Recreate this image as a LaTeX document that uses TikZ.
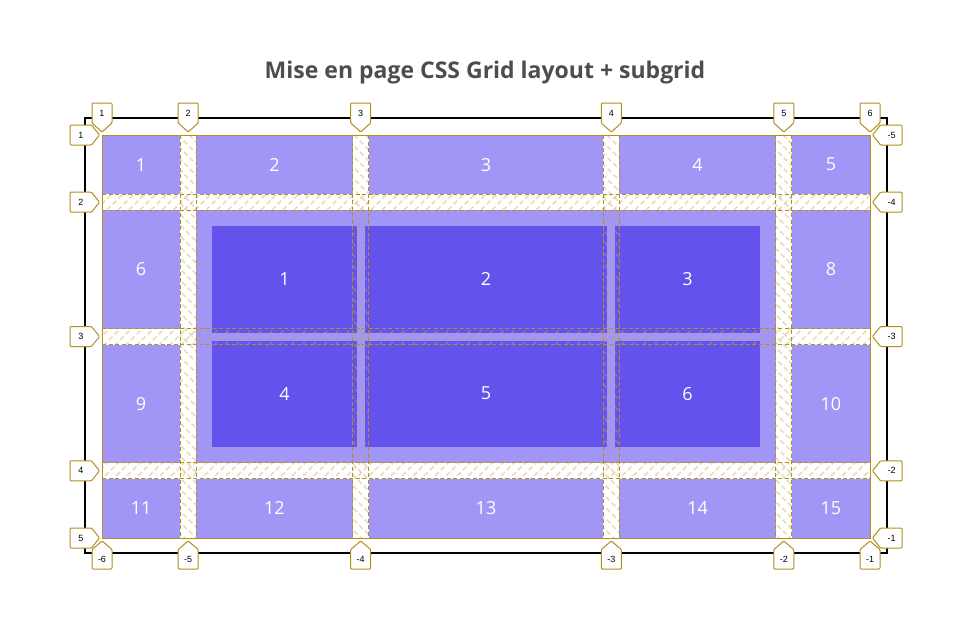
\documentclass[tikz,border=0pt]{standalone}
\usepackage{fontspec}
\setmainfont{Open Sans}
\newfontfamily\badgefont{Liberation Sans}
\definecolor{lightp}{RGB}{161,150,245}
\definecolor{darkp}{RGB}{99,82,235}
\definecolor{gridgold}{RGB}{176,144,30}
\definecolor{hatchgold}{RGB}{200,170,80}
\definecolor{titlegray}{RGB}{77,77,77}
\tikzset{
  cellbox/.style={fill=lightp, inner sep=0pt, outer sep=0pt, text=white, font=\fontsize{18}{18}\selectfont},
  subbox/.style={fill=darkp, inner sep=0pt, outer sep=0pt, text=white, font=\fontsize{18}{18}\selectfont},
  hatchline/.style={draw=hatchgold, draw opacity=0.4, line width=1.6pt, dash pattern=on 5pt off 3pt},
  gridline/.style={draw=gridgold, line width=1pt, dash pattern=on 4pt off 2.5pt},
  badge/.style={draw=gridgold, fill=white, line width=1pt, rounded corners=1pt},
  badgetext/.style={inner sep=0pt, font=\badgefont\fontsize{9}{9}\selectfont, text=black},
}
\newcommand{\gcell}[7]{% style, name, x1, y1, x2, y2, text
  \node[#1, minimum width={#5-#3}, minimum height={#6-#4}] (#2) at ({(#3+#5)/2},{(#4+#6)/2}) {#7};}
\newcommand{\badgeTop}[3]{%
  \draw[badge] (#2-10,103) -- (#2+10,103) -- (#2+10,123) -- (#2,132) -- (#2-10,123) -- cycle;
  \node[badgetext] (#1) at (#2,113.5) {#3};}
\newcommand{\badgeBot}[3]{%
  \draw[badge] (#2,541) -- (#2+10,549.5) -- (#2+10,569) -- (#2-10,569) -- (#2-10,549.5) -- cycle;
  \node[badgetext] (#1) at (#2,559) {#3};}
\newcommand{\badgeLeft}[3]{%
  \draw[badge] (70,#2-10) -- (91.5,#2-10) -- (99.5,#2) -- (91.5,#2+10) -- (70,#2+10) -- cycle;
  \node[badgetext] (#1) at (81,#2) {#3};}
\newcommand{\badgeRight}[3]{%
  \draw[badge] (872.5,#2) -- (880.5,#2-10) -- (902,#2-10) -- (902,#2+10) -- (880.5,#2+10) -- cycle;
  \node[badgetext] (#1) at (891.5,#2) {#3};}
\begin{document}
\begin{tikzpicture}[x=1pt,y=-1pt]
\useasboundingbox[fill=white] (0,0) rectangle (960,640);
% title
\node[font=\bfseries\fontsize{23}{23}\selectfont, text=titlegray] (title) at (485,72.5) {Mise en page CSS Grid layout + subgrid};
% container
\draw[black, line width=2pt] (85,118) rectangle (887,553);
% row 1
\gcell{cellbox}{i1}{102}{135}{180.2}{194.2}{1}
\gcell{cellbox}{i2}{196.2}{135}{352.7}{194.2}{2}
\gcell{cellbox}{i3}{368.7}{135}{603.3}{194.2}{3}
\gcell{cellbox}{i4}{619.3}{135}{775.8}{194.2}{4}
\gcell{cellbox}{i5}{791.8}{135}{870}{194.2}{5}
% rows 2-3
\gcell{cellbox}{i6}{102}{210.2}{180.2}{328.5}{6}
\gcell{cellbox}{i7}{196.2}{210.2}{775.8}{462.8}{}
\gcell{cellbox}{i8}{791.8}{210.2}{870}{328.5}{8}
\gcell{cellbox}{i9}{102}{344.5}{180.2}{462.8}{9}
\gcell{cellbox}{i10}{791.8}{344.5}{870}{462.8}{10}
% row 4
\gcell{cellbox}{i11}{102}{478.8}{180.2}{538}{11}
\gcell{cellbox}{i12}{196.2}{478.8}{352.7}{538}{12}
\gcell{cellbox}{i13}{368.7}{478.8}{603.3}{538}{13}
\gcell{cellbox}{i14}{619.3}{478.8}{775.8}{538}{14}
\gcell{cellbox}{i15}{791.8}{478.8}{870}{538}{15}
% subgrid items
\gcell{subbox}{s1}{212.2}{226.2}{356.7}{332.5}{1}
\gcell{subbox}{s2}{364.7}{226.2}{607.3}{332.5}{2}
\gcell{subbox}{s3}{615.3}{226.2}{759.8}{332.5}{3}
\gcell{subbox}{s4}{212.2}{340.5}{356.7}{446.8}{4}
\gcell{subbox}{s5}{364.7}{340.5}{607.3}{446.8}{5}
\gcell{subbox}{s6}{615.3}{340.5}{759.8}{446.8}{6}
% hatching in column gaps
\begin{scope}
  \clip (180.2,135) rectangle (196.2,538) (352.7,135) rectangle (368.7,538)
        (603.3,135) rectangle (619.3,538) (775.8,135) rectangle (791.8,538);
  \foreach \k in {-240,-229,...,800} \draw[hatchline] (\k,135) -- ++(403,403);
\end{scope}
% hatching in row gaps
\begin{scope}
  \clip (102,194.2) rectangle (870,210.2) (102,328.5) rectangle (870,344.5)
        (102,462.8) rectangle (870,478.8);
  \foreach \k in {-320,-309,...,880} \draw[hatchline] (\k,538) -- ++(403,-403);
\end{scope}
% dashed grid lines
\foreach \x in {180.2,196.2,352.7,368.7,603.3,619.3,775.8,791.8}
  \draw[gridline] (\x,135) -- (\x,538);
\foreach \y in {194.2,210.2,328.5,344.5,462.8,478.8}
  \draw[gridline] (102,\y) -- (870,\y);
% grid border
\draw[gridgold, line width=1pt] (102,135) rectangle (870,538);
% badges
\badgeTop{t1}{102}{1}
\badgeTop{t2}{188.2}{2}
\badgeTop{t3}{360.7}{3}
\badgeTop{t4}{611.3}{4}
\badgeTop{t5}{783.8}{5}
\badgeTop{t6}{870}{6}
\badgeBot{b1}{102}{-6}
\badgeBot{b2}{188.2}{-5}
\badgeBot{b3}{360.7}{-4}
\badgeBot{b4}{611.3}{-3}
\badgeBot{b5}{783.8}{-2}
\badgeBot{b6}{870}{-1}
\badgeLeft{l1}{135}{1}
\badgeLeft{l2}{202.2}{2}
\badgeLeft{l3}{336.5}{3}
\badgeLeft{l4}{470.8}{4}
\badgeLeft{l5}{538}{5}
\badgeRight{r1}{135}{-5}
\badgeRight{r2}{202.2}{-4}
\badgeRight{r3}{336.5}{-3}
\badgeRight{r4}{470.8}{-2}
\badgeRight{r5}{538}{-1}
\end{tikzpicture}
\end{document}
